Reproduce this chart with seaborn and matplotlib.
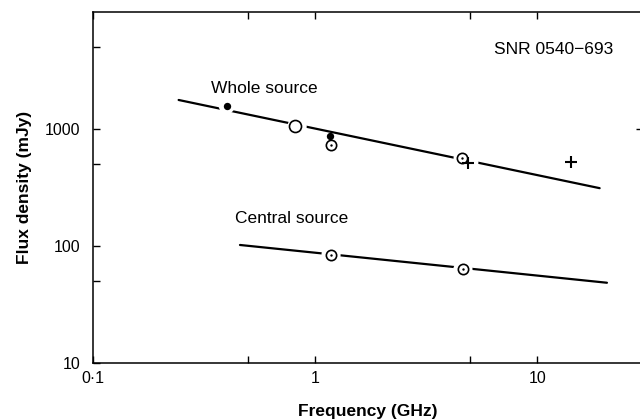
import numpy as np
import pandas as pd
import seaborn as sns
import matplotlib
matplotlib.use("Agg")
import matplotlib.pyplot as plt
from matplotlib.ticker import FixedLocator, FixedFormatter, NullFormatter

sns.set_style("ticks")
plt.rcParams['font.family'] = ['Liberation Sans', 'DejaVu Sans']
plt.rcParams['text.color'] = 'black'
plt.rcParams['axes.labelcolor'] = 'black'
plt.rcParams['xtick.color'] = 'black'
plt.rcParams['ytick.color'] = 'black'

# fitted power-law lines (end points)
whole_line_freq = [0.243, 19.1]
whole_line_flux = [1770, 312]
central_line_freq = [0.459, 20.6]
central_line_flux = [102, 48.5]

# whole source measurements
filled_freq = [0.40, 1.17]
filled_flux = [1570, 872]
open_freq = [0.81]
open_flux = [1070]
dotted_whole_freq = [1.18, 4.6]
dotted_whole_flux = [736, 560]
plus_freq = [4.9, 14.2]
plus_flux = [508, 525]

# central source measurements
dotted_central_freq = [1.18, 4.63]
dotted_central_flux = [84.4, 63]

# points where the hand-drawn line is broken around the symbol
gap_freq = [0.40, 0.83, 4.65, 4.95, 1.18, 4.63]
gap_flux = [1570, 1060, 560, 525, 84.4, 63]
gap_size = [130, 190, 200, 170, 190, 190]

fig = plt.figure(figsize=(6.4, 4.19), dpi=100)
ax = fig.add_axes([0.1453, 0.1337, 0.8597, 0.8377])

lines = pd.DataFrame({
    "freq": whole_line_freq + central_line_freq,
    "flux": whole_line_flux + central_line_flux,
    "src": ["whole"] * 2 + ["central"] * 2,
})
sns.lineplot(data=lines, x="freq", y="flux", units="src", estimator=None,
             color="black", lw=1.6, ax=ax, zorder=2)

sns.scatterplot(x=gap_freq, y=gap_flux, s=gap_size, color="white",
                linewidth=0, ax=ax, zorder=3)

sns.scatterplot(x=filled_freq, y=filled_flux, s=28, color="black",
                linewidth=0, ax=ax, zorder=4)
sns.scatterplot(x=open_freq, y=open_flux, s=75, facecolor="white",
                edgecolor="black", linewidth=1.2, ax=ax, zorder=4)
dot_freq = dotted_whole_freq + dotted_central_freq
dot_flux = dotted_whole_flux + dotted_central_flux
sns.scatterplot(x=dot_freq, y=dot_flux, s=55, facecolor="white",
                edgecolor="black", linewidth=1.2, ax=ax, zorder=4)
sns.scatterplot(x=dot_freq, y=dot_flux, s=3, color="black",
                linewidth=0, ax=ax, zorder=5)
sns.scatterplot(x=plus_freq, y=plus_flux, s=70, marker="+", color="black",
                linewidth=1.5, ax=ax, zorder=5)

ax.set_xscale("log")
ax.set_yscale("log")
ax.set_xlim(0.1, 30)
ax.set_ylim(10, 10000)

ax.xaxis.set_major_locator(FixedLocator([0.1, 1, 10]))
ax.xaxis.set_major_formatter(FixedFormatter(["0·1", "1", "10"]))
ax.xaxis.set_minor_locator(FixedLocator([0.5, 5]))
ax.xaxis.set_minor_formatter(NullFormatter())
ax.yaxis.set_major_locator(FixedLocator([10, 100, 1000]))
ax.yaxis.set_major_formatter(FixedFormatter(["10", "100", "1000"]))
ax.yaxis.set_minor_locator(FixedLocator([50, 500, 5000]))
ax.yaxis.set_minor_formatter(NullFormatter())

ax.tick_params(which="both", direction="in", length=5, width=1.0,
               labelsize=11.5, top=True, color="black")
ax.tick_params(axis="x", which="major", pad=6)
ax.tick_params(axis="y", which="major", pad=9)
for sp in ax.spines.values():
    sp.set_visible(True)
    sp.set_linewidth(1.1)
    sp.set_color("black")

# the right frame carries a single tick at 1000 mJy
right = ax.secondary_yaxis("right")
right.set_yticks([1000])
right.yaxis.set_minor_locator(FixedLocator([]))
right.tick_params(direction="in", length=5, width=1.0, labelright=False)

ax.set_xlabel("Frequency (GHz)", fontsize=12.5, fontweight="bold", labelpad=12.5)
ax.set_ylabel("Flux density (mJy)", fontsize=12.5, fontweight="bold", labelpad=9)

ax.text(0.729, 0.88, "SNR 0540\u2212693", transform=ax.transAxes, fontsize=12.5)
ax.text(0.215, 0.77, "Whole source", transform=ax.transAxes, fontsize=12.5)
ax.text(0.258, 0.40, "Central source", transform=ax.transAxes, fontsize=12.5)

fig.savefig("out.png", dpi=100)
